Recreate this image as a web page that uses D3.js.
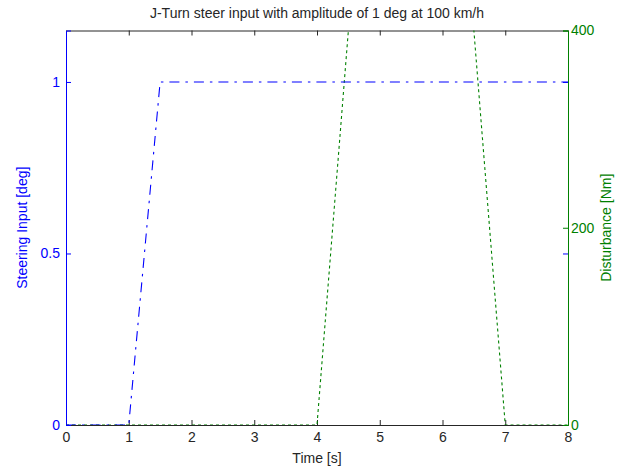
<!DOCTYPE html>
<html>
<head>
<meta charset="utf-8">
<script src="https://cdn.jsdelivr.net/npm/d3@7"></script>
<style>
  html, body { margin: 0; padding: 0; background: #fff; }
  svg { display: block; font-family: "Liberation Sans", Arial, sans-serif; }
</style>
</head>
<body>
<svg id="chart" width="624" height="470"></svg>
<script>
// Time axis
const timeTicks = [0, 1, 2, 3, 4, 5, 6, 7, 8];
// Steering input (deg) vs time (s)
const steerTime = [0, 1, 1.5, 8];
const steerValue = [0, 0, 1, 1];
const steerTicks = [0, 0.5, 1];
// Disturbance torque (Nm) vs time (s)
const distTime = [0, 4, 5, 6, 7, 8];
const distValue = [0, 0, 800, 800, 0, 0];
const distTicks = [0, 200, 400];

const titleText = "J-Turn steer input with amplitude of 1 deg at 100 km/h";
const xLabel = "Time [s]";
const yLeftLabel = "Steering Input [deg]";
const yRightLabel = "Disturbance [Nm]";

const BLUE = "#0000ff", GREEN = "#008000", BLACK = "#262626";
const m = { left: 66, right: 568, top: 30.5, bottom: 425 };

const svg = d3.select("#chart");
const x = d3.scaleLinear().domain([0, 8]).range([m.left, m.right]);
const yL = d3.scaleLinear().domain([0, 1.15]).range([m.bottom, m.top]);
const yR = d3.scaleLinear().domain([0, 400]).range([m.bottom, m.top]);

svg.append("defs").append("clipPath").attr("id", "plotClip")
  .append("rect").attr("x", m.left).attr("y", m.top)
  .attr("width", m.right - m.left).attr("height", m.bottom - m.top);

const tickLen = 5;
const fs = 14;
const ff = "Liberation Sans, Arial, sans-serif";

// Bottom axis with inward ticks
const axBottom = svg.append("g").attr("transform", `translate(0,${m.bottom})`)
  .call(d3.axisBottom(x).tickValues(timeTicks).tickSize(-tickLen).tickPadding(7).tickFormat(d3.format("d")));
axBottom.select(".domain").attr("stroke", BLACK);
axBottom.selectAll(".tick line").attr("stroke", BLACK);
axBottom.selectAll(".tick text").attr("fill", BLACK).attr("font-size", fs).attr("font-family", ff);

// Top axis (box edge) with inward ticks
const axTop = svg.append("g").attr("transform", `translate(0,${m.top})`)
  .call(d3.axisTop(x).tickValues(timeTicks).tickSize(-tickLen).tickFormat(""));
axTop.select(".domain").attr("stroke", BLACK);
axTop.selectAll(".tick line").attr("stroke", BLACK);

// Left axis (steering)
const axLeft = svg.append("g").attr("transform", `translate(${m.left},0)`)
  .call(d3.axisLeft(yL).tickValues(steerTicks).tickSize(-tickLen).tickPadding(6).tickFormat(d => d === 0.5 ? "0.5" : d3.format("d")(d)));
axLeft.select(".domain").attr("stroke", BLUE);
axLeft.selectAll(".tick line").attr("stroke", BLUE);
axLeft.selectAll(".tick text").attr("fill", BLUE).attr("font-size", fs).attr("font-family", ff);

// Steering ticks repeated on the right edge
const axLeftMirror = svg.append("g").attr("transform", `translate(${m.right},0)`)
  .call(d3.axisRight(yL).tickValues(steerTicks).tickSize(-tickLen).tickFormat(""));
axLeftMirror.select(".domain").remove();
axLeftMirror.selectAll(".tick line").attr("stroke", BLUE);

// Right axis (disturbance)
const axRight = svg.append("g").attr("transform", `translate(${m.right},0)`)
  .call(d3.axisRight(yR).tickValues(distTicks).tickSize(-tickLen).tickPadding(3).tickFormat(d3.format("d")));
axRight.select(".domain").attr("stroke", GREEN);
axRight.selectAll(".tick line").attr("stroke", GREEN);
axRight.selectAll(".tick text").attr("fill", GREEN).attr("font-size", fs).attr("font-family", ff);

// Data lines
const plot = svg.append("g").attr("clip-path", "url(#plotClip)");

const distLine = d3.line().x((d, i) => x(distTime[i])).y(d => yR(d));
plot.append("path").datum(distValue)
  .attr("d", distLine).attr("fill", "none")
  .attr("stroke", GREEN).attr("stroke-width", 1.1)
  .attr("stroke-dasharray", "3,3");

const steerLine = d3.line().x((d, i) => x(steerTime[i])).y(d => yL(d));
plot.append("path").datum(steerValue)
  .attr("d", steerLine).attr("fill", "none")
  .attr("stroke", BLUE).attr("stroke-width", 1.1)
  .attr("stroke-dasharray", "10,6,2.5,6");

// Title and axis labels
svg.append("text").attr("x", (m.left + m.right) / 2).attr("y", 18)
  .attr("text-anchor", "middle").attr("font-size", fs).attr("fill", BLACK).text(titleText);

svg.append("text").attr("x", (m.left + m.right) / 2).attr("y", 463)
  .attr("text-anchor", "middle").attr("font-size", fs).attr("fill", BLACK).text(xLabel);

svg.append("text")
  .attr("transform", `translate(27,${(m.top + m.bottom) / 2}) rotate(-90)`)
  .attr("text-anchor", "middle").attr("font-size", fs).attr("fill", BLUE).text(yLeftLabel);

svg.append("text")
  .attr("transform", `translate(611,${(m.top + m.bottom) / 2}) rotate(-90)`)
  .attr("text-anchor", "middle").attr("font-size", fs).attr("fill", GREEN).text(yRightLabel);
</script>
</body>
</html>
